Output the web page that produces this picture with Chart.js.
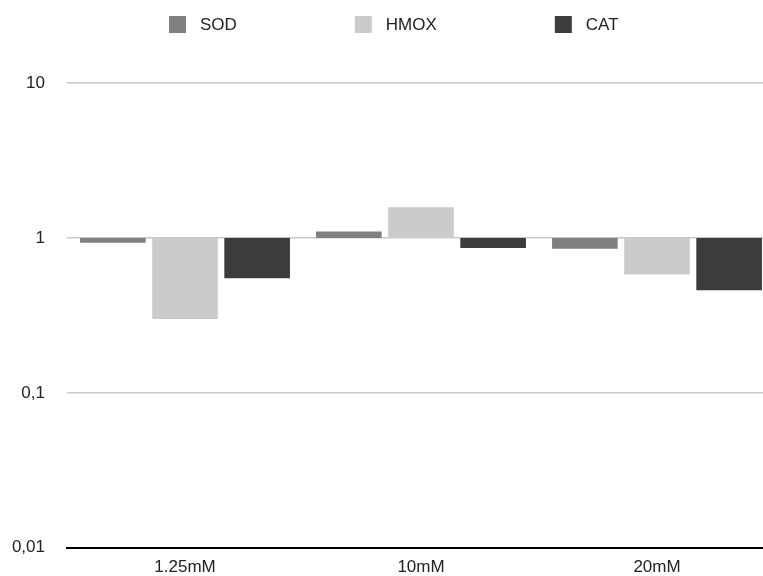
<!DOCTYPE html>
<html>
<head>
<meta charset="utf-8">
<script src="https://cdn.jsdelivr.net/npm/chart.js@4"></script>
<style>
  html, body { margin: 0; padding: 0; background: #fff; overflow: hidden; }
  /* the original plot runs past the right edge, so the last bar is cut */
  #wrap { width: 763px; height: 576px; overflow: hidden; }
</style>
</head>
<body>
<div id="wrap"><canvas id="foldChart" width="775" height="580"></canvas></div>
<script>
// values (fold change, log scale, bars hang from 1)
const categories = ["1.25mM", "10mM", "20mM"];
const sodValues = [0.93, 1.10, 0.85];
const hmoxValues = [0.30, 1.58, 0.58];
const catValues = [0.55, 0.86, 0.46];
const yTicks = [0.01, 0.1, 1, 10];
const yTickLabels = ["0,01", "0,1", "1", "10"];

const FONT = "'Liberation Sans', Arial, Helvetica, sans-serif";
const baseline = 1;

function floating(values) {
    // each bar starts at 1 and ends at its value
    return values.map(v => [baseline, v]);
}

// simple legend drawn at the top, spaced like the original
const topLegend = {
    id: "topLegend",
    afterDraw(chart, args, opts) {
        const ctx = chart.ctx;
        ctx.save();
        ctx.font = "17px " + FONT;
        ctx.textBaseline = "middle";
        let x = opts.startX;
        chart.data.datasets.forEach(ds => {
            ctx.fillStyle = ds.backgroundColor;
            ctx.fillRect(x, opts.y - 8, 17, 17);
            ctx.fillStyle = "#222";
            ctx.fillText(ds.label, x + 31, opts.y + 1);
            x += 31 + ctx.measureText(ds.label).width + opts.gap;
        });
        ctx.restore();
    }
};

const ctx = document.getElementById("foldChart").getContext("2d");
const foldChart = new Chart(ctx, {
    type: "bar",
    data: {
        labels: categories,
        datasets: [
            { label: "SOD", data: floating(sodValues), backgroundColor: "#808080" },
            { label: "HMOX", data: floating(hmoxValues), backgroundColor: "#cbccca" },
            { label: "CAT", data: floating(catValues), backgroundColor: "#3c3c3c" }
        ]
    },
    options: {
        responsive: false,
        animation: false,
        categoryPercentage: 0.917,
        barPercentage: 0.91,
        layout: { padding: { top: 83, right: 0, bottom: 0, left: 0 } },
        plugins: {
            legend: { display: false },
            tooltip: { enabled: false },
            topLegend: { startX: 169, y: 24, gap: 118 }
        },
        scales: {
            x: {
                afterFit(scale) { scale.height = 28; },
                grid: { display: false, drawTicks: false },
                border: { display: true, color: "#000", width: 2 },
                ticks: { color: "#222", font: { family: FONT, size: 17 }, padding: 9 }
            },
            y: {
                type: "logarithmic",
                min: 0.01,
                max: 10,
                afterFit(scale) { scale.width = 67; },
                afterBuildTicks(scale) {
                    scale.ticks = yTicks.map(v => ({ value: v }));
                },
                grid: {
                    drawTicks: false,
                    color: "#c8c8c8",
                    lineWidth: 1.5
                },
                border: { display: false },
                ticks: {
                    color: "#222",
                    font: { family: FONT, size: 17 },
                    padding: 22,
                    callback: function (value) {
                        const i = yTicks.indexOf(value);
                        return i >= 0 ? yTickLabels[i] : "";
                    }
                }
            }
        }
    },
    plugins: [topLegend]
});
</script>
</body>
</html>
